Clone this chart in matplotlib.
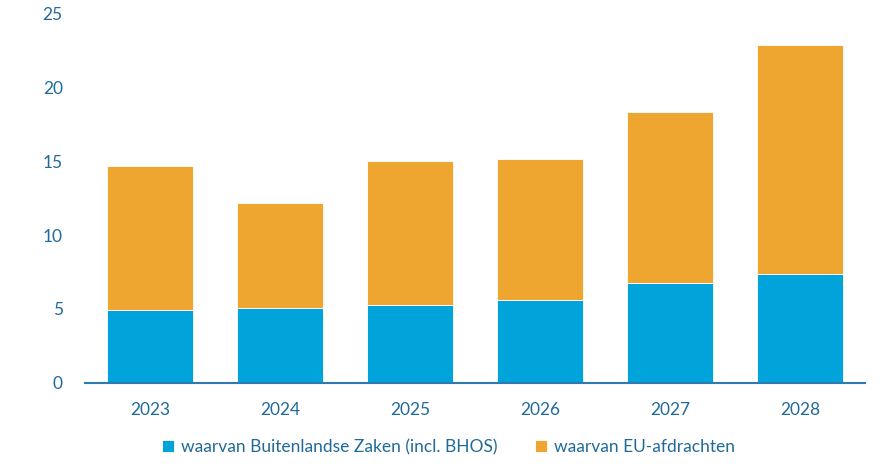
import matplotlib.pyplot as plt
import numpy as np

# --- Data ---
years = ["2023", "2024", "2025", "2026", "2027", "2028"]
buza = [4.91, 5.08, 5.29, 5.61, 6.78, 7.39]
eu = [9.78, 7.08, 9.76, 9.56, 11.57, 15.48]

labels = ["waarvan Buitenlandse Zaken (incl. BHOS)", "waarvan EU-afdrachten"]
colors = ["#00A3DA", "#EEA630"]
text_color = "#1F6A9A"

plt.rcParams["font.family"] = ["Lato", "DejaVu Sans"]

fig = plt.figure(figsize=(8.92, 4.75), dpi=100)
ax = fig.add_axes([85 / 892, 92.3 / 475, 780 / 892, 368.7 / 475])

x = np.arange(len(years))
ax.bar(x, buza, width=0.666, color=colors[0], edgecolor="white", linewidth=0.6, label=labels[0], zorder=2)
ax.bar(x, eu, width=0.666, bottom=buza, color=colors[1], edgecolor="white", linewidth=0.6, label=labels[1], zorder=2)

ax.set_xlim(-0.5, 5.5)
ax.set_ylim(0, 25)
ax.set_xticks(x)
ax.set_xticklabels(years)
ax.set_yticks(range(0, 26, 5))

for s in ["top", "right", "left"]:
    ax.spines[s].set_visible(False)
ax.spines["bottom"].set_color("#2F7BB0")
ax.spines["bottom"].set_linewidth(1.5)
ax.spines["bottom"].set_zorder(3)

ax.tick_params(axis="both", length=0, colors=text_color, labelsize=12.5)
ax.tick_params(axis="x", pad=14)
ax.tick_params(axis="y", pad=16)

leg = ax.legend(loc="upper center", bbox_to_anchor=(0.466, -0.11), ncol=2, frameon=False,
                fontsize=12.5, handlelength=0.7, handleheight=0.7, handletextpad=0.4,
                columnspacing=2.2, labelcolor=text_color)

fig.savefig("out.png", dpi=100)
